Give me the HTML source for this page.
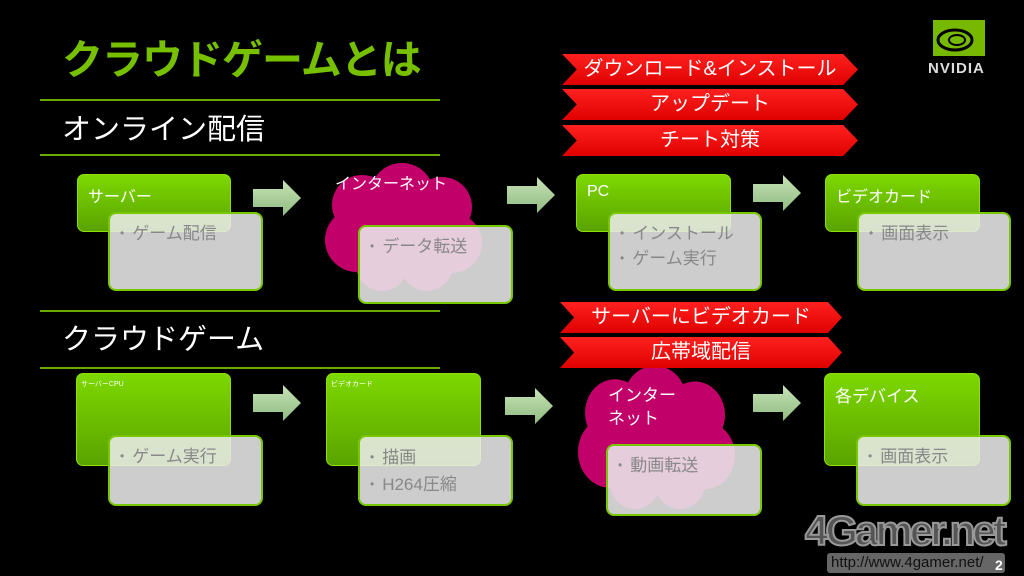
<!DOCTYPE html>
<html><head><meta charset="utf-8"><style>
*{margin:0;padding:0;box-sizing:border-box}
body{width:1024px;height:576px;background:#000;position:relative;overflow:hidden;font-family:"Liberation Sans","Noto Sans CJK JP",sans-serif}
.a{position:absolute}
.g{position:absolute;border-radius:7px;background:linear-gradient(#7dd800,#5aa300);border:1px solid #8ee000;color:#fff;font-size:16px;padding:8px 10px}
.w{position:absolute;border-radius:8px;background:rgba(235,235,235,0.87);border:2px solid #77c800;color:#888;font-size:17px;padding:7px 10px;line-height:25px}
.w span{font-size:12px;margin-right:8px;vertical-align:2px}
.ln{position:absolute;left:40px;width:400px;height:2px;background:#6aaa00}
.r{position:absolute;left:562px;width:296px;height:31px;background:linear-gradient(#ff2020,#e00000);clip-path:polygon(0 0,95% 0,100% 50%,95% 100%,0 100%,5% 50%);color:#fff;font-size:20px;text-align:center;line-height:31px}
</style></head><body>
<svg class="a" style="left:0;top:0" width="1024" height="576">
<defs>
<linearGradient id="ar" x1="0" y1="0" x2="0" y2="1"><stop offset="0" stop-color="#c7e2b6"/><stop offset="1" stop-color="#8fbc80"/></linearGradient>
<g id="arw"><polygon points="0,9 30,9 30,0 48,18 30,36 30,27 0,27" fill="url(#ar)"/></g>
<g id="cl" fill="#c2006a"><circle cx="40" cy="40" r="30"/><circle cx="80" cy="30" r="32"/><circle cx="120" cy="42" r="30"/><circle cx="35" cy="75" r="32"/><circle cx="130" cy="78" r="30"/><circle cx="60" cy="100" r="26"/><circle cx="105" cy="100" r="26"/><circle cx="82" cy="68" r="40"/></g>
</defs>
<use href="#arw" x="253" y="180"/><use href="#arw" x="507" y="177"/><use href="#arw" x="753" y="175"/>
<use href="#arw" x="253" y="385"/><use href="#arw" x="505" y="388"/><use href="#arw" x="753" y="385"/>
<use href="#cl" x="322" y="165" transform="translate(0,0)"/>
<g transform="translate(575,368) scale(1,1.12)"><use href="#cl"/></g>
</svg>
<div class="a" style="left:62px;top:26px;font-size:41px;font-weight:bold;color:#76c000;letter-spacing:-1px">クラウドゲームとは</div>
<div class="ln" style="top:99px"></div>
<div class="a" style="left:62px;top:106px;font-size:29px;color:#fff">オンライン配信</div>
<div class="ln" style="top:154px"></div>
<div class="ln" style="top:310px"></div>
<div class="a" style="left:62px;top:316px;font-size:29px;color:#fff">クラウドゲーム</div>
<div class="ln" style="top:367px"></div>

<div class="r" style="top:54px">ダウンロード&amp;インストール</div>
<div class="r" style="top:89px">アップデート</div>
<div class="r" style="top:125px">チート対策</div>
<div class="r" style="top:302px;width:282px;left:560px">サーバーにビデオカード</div>
<div class="r" style="top:337px;width:282px;left:560px">広帯域配信</div>

<div class="g" style="left:77px;top:174px;width:154px;height:58px">サーバー</div>
<div class="w" style="left:108px;top:212px;width:155px;height:79px"><span>•</span>ゲーム配信</div>
<div class="a" style="left:335px;top:170px;color:#fff;font-size:16px">インターネット</div>
<div class="w" style="left:358px;top:225px;width:155px;height:79px"><span>•</span>データ転送</div>
<div class="g" style="left:576px;top:174px;width:155px;height:58px">PC</div>
<div class="w" style="left:608px;top:212px;width:154px;height:79px;line-height:24px"><span>•</span>インストール<br><span>•</span>ゲーム実行</div>
<div class="g" style="left:825px;top:174px;width:155px;height:58px">ビデオカード</div>
<div class="w" style="left:857px;top:212px;width:154px;height:79px"><span>•</span>画面表示</div>

<div class="g" style="left:76px;top:373px;width:155px;height:93px;font-size:7px;padding:5px 4px">サーバーCPU</div>
<div class="w" style="left:108px;top:435px;width:155px;height:71px"><span>•</span>ゲーム実行</div>
<div class="g" style="left:326px;top:373px;width:155px;height:93px;font-size:7px;padding:5px 4px">ビデオカード</div>
<div class="w" style="left:358px;top:435px;width:155px;height:71px;line-height:26px"><span>•</span>描画<br><span>•</span>H264圧縮</div>
<div class="a" style="left:608px;top:384px;color:#fff;font-size:17px;line-height:23px">インター<br>ネット</div>
<div class="w" style="left:606px;top:444px;width:156px;height:72px"><span>•</span>動画転送</div>
<div class="g" style="left:824px;top:373px;width:156px;height:93px;font-size:17px">各デバイス</div>
<div class="w" style="left:856px;top:435px;width:155px;height:71px"><span>•</span>画面表示</div>

<div class="a" style="left:933px;top:20px;width:52px;height:36px;background:#76b900"></div>
<svg class="a" style="left:933px;top:20px" width="52" height="36"><ellipse cx="22" cy="20" rx="17" ry="10" fill="none" stroke="#000" stroke-width="3"/><ellipse cx="24" cy="20" rx="8" ry="5" fill="none" stroke="#000" stroke-width="2"/></svg>
<div class="a" style="left:928px;top:60px;color:#ddd;font-size:15px;font-weight:bold;letter-spacing:1px">NVIDIA</div>

<div class="a" style="left:805px;top:507px;color:#555;font-size:42px;font-weight:bold;letter-spacing:-3px;-webkit-text-stroke:2px #999;line-height:48px">4Gamer.net</div>
<div class="a" style="left:827px;top:553px;width:178px;height:20px;background:#666;border-radius:3px;color:#111;font-size:15px;line-height:20px;padding-left:4px">http://www.4gamer.net/</div>
<div class="a" style="left:995px;top:557px;color:#fff;font-size:14px;font-weight:bold">2</div>
</body></html>
